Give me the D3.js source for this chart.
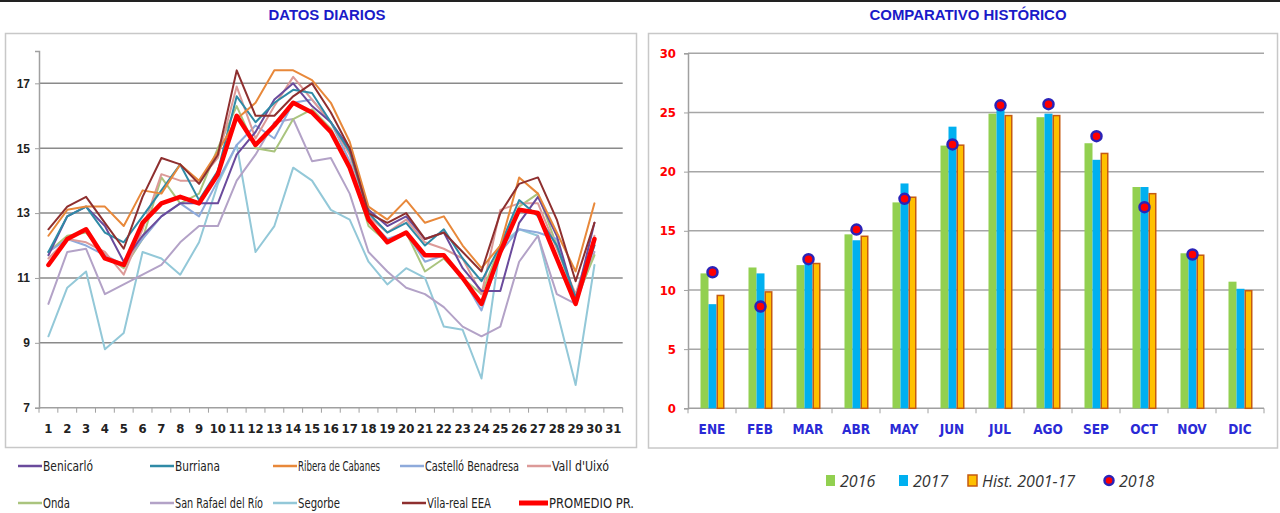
<!DOCTYPE html>
<html>
<head>
<meta charset="utf-8">
<script src="https://cdn.jsdelivr.net/npm/d3@7"></script>
<style>
  html, body { margin: 0; padding: 0; background: #fff; }
  svg { display: block; }
</style>
</head>
<body>
<svg id="chart" width="1280" height="513"></svg>
<script>
// ---------- DATA: left chart (daily) ----------
const days = d3.range(1, 32);
const dailyTicks = [7, 9, 11, 13, 15, 17];
const stationNames = ["Benicarló", "Burriana", "Ribera de Cabanes", "Castelló Benadresa", "Vall d'Uixó",
                      "Onda", "San Rafael del Río", "Segorbe", "Vila-real EEA", "PROMEDIO PR."];
const benicarlo = [11.7,12.9,13.2,12.6,11.5,12.3,12.9,13.3,13.3,13.3,14.8,15.5,16.5,17.0,16.3,15.8,15.0,13.1,12.6,12.9,12.2,12.4,11.3,10.6,10.6,12.7,13.5,12.3,10.3,12.7];
const burriana = [11.8,12.9,13.2,12.4,12.1,12.9,13.7,14.5,13.4,14.3,16.6,15.8,16.4,16.8,16.7,15.8,14.9,13.0,12.4,12.7,12.0,12.5,11.6,10.9,12.0,13.4,12.9,12.0,10.4,12.0];
const ribera = [12.3,13.1,13.2,13.2,12.6,13.7,13.6,14.5,14.0,14.9,15.9,16.4,17.4,17.4,17.1,16.4,15.2,13.2,12.8,13.4,12.7,12.9,12.0,11.3,12.0,14.1,13.6,12.4,11.2,13.3];
const castello = [11.8,12.2,12.0,11.7,11.4,12.2,12.9,13.3,12.9,14.0,15.1,15.7,15.3,16.4,16.5,15.8,14.6,12.8,12.2,12.4,11.5,11.7,11.0,10.0,11.8,12.5,12.4,12.2,10.2,12.0];
const vall = [11.6,12.2,12.1,11.8,11.1,12.5,14.2,14.0,14.0,14.7,16.9,15.3,16.3,17.2,16.5,15.8,14.8,12.9,12.4,12.8,12.1,11.9,11.6,10.5,13.1,13.3,13.3,11.9,10.5,12.3];
const onda = [11.8,12.3,12.4,11.7,11.3,12.2,14.1,13.3,13.6,15.0,16.3,15.0,14.9,15.9,16.2,15.6,14.5,12.6,12.1,12.4,11.2,11.6,11.0,10.5,12.0,13.2,13.6,12.0,10.3,11.7];
const sanrafael = [10.2,11.8,11.9,10.5,10.8,11.1,11.4,12.1,12.6,12.6,14.0,14.8,15.8,15.9,14.6,14.7,13.6,11.8,11.2,10.7,10.5,10.1,9.5,9.2,9.5,11.5,12.3,10.5,10.2,11.8];
const segorbe = [9.2,10.7,11.2,8.8,9.3,11.8,11.6,11.1,12.1,13.9,15.1,11.8,12.6,14.4,14.0,13.1,12.8,11.5,10.8,11.3,11.0,9.5,9.4,7.9,12.0,12.5,12.3,10.0,7.7,11.4];
const vilareal = [12.5,13.2,13.5,12.7,11.9,13.5,14.7,14.5,13.9,14.8,17.4,16.0,16.0,16.6,17.0,16.1,15.0,13.0,12.7,13.0,12.2,12.4,11.8,11.2,13.0,13.9,14.1,12.8,10.9,12.7];
const promedio = [11.4,12.2,12.5,11.6,11.4,12.7,13.3,13.5,13.3,14.2,16.0,15.1,15.7,16.4,16.1,15.5,14.4,12.8,12.1,12.4,11.7,11.7,11.0,10.2,11.8,13.1,13.0,11.6,10.2,12.2];

// ---------- DATA: right chart (monthly) ----------
const months = ["ENE","FEB","MAR","ABR","MAY","JUN","JUL","AGO","SEP","OCT","NOV","DIC"];
const monthTicks = [0, 5, 10, 15, 20, 25, 30];
const barSeries = ["2016", "2017", "Hist. 2001-17"];
const y2016 = [11.4,11.9,12.1,14.7,17.4,22.2,24.9,24.6,22.4,18.7,13.1,10.7];
const y2017 = [8.8,11.4,12.4,14.2,19.0,23.8,25.3,24.9,21.0,18.7,13.1,10.1];
const yHist = [9.6,9.9,12.3,14.6,17.9,22.3,24.8,24.8,21.6,18.2,13.0,10.0];
const y2018 = [11.5,8.6,12.6,15.1,17.7,22.3,25.6,25.7,23.0,17.0,13.0,null];

// ---------- STYLE ----------
const stationColors = ["#6a4a9c","#2f8aa6","#e8883a","#8eaadb","#dc9a98","#aac47e","#b3a2c7","#93c8d8","#8e2f2f","#ff0000"];
const barColors = ["#92d050", "#00b0f0", "#ffc000"];
const narrow = "'Liberation Sans Narrow','DejaVu Sans Condensed',Arial,sans-serif";
const legendWidths = [50, 45, 82, 94, 57, 27, 88, 42, 64, 85];

const svg = d3.select("#chart");
svg.append("rect").attr("width", 1280).attr("height", 513).attr("fill", "#fff");
svg.append("line").attr("x1", 0).attr("x2", 1280).attr("y1", 1).attr("y2", 1)
   .attr("stroke", "#222").attr("stroke-width", 2);

// titles
svg.append("text").attr("x", 327).attr("y", 20).attr("text-anchor", "middle")
   .attr("font-family", "Arial, 'Liberation Sans', sans-serif").attr("font-weight", "bold")
   .attr("font-size", 14).attr("fill", "#1a1ac8")
   .attr("textLength", 117).attr("lengthAdjust", "spacingAndGlyphs").text("DATOS DIARIOS");
svg.append("text").attr("x", 968).attr("y", 20).attr("text-anchor", "middle")
   .attr("font-family", "Arial, 'Liberation Sans', sans-serif").attr("font-weight", "bold")
   .attr("font-size", 14).attr("fill", "#1a1ac8")
   .attr("textLength", 197).attr("lengthAdjust", "spacingAndGlyphs").text("COMPARATIVO HISTÓRICO");

// ================= LEFT CHART =================
svg.append("rect").attr("x", 5.5).attr("y", 33.5).attr("width", 631).attr("height", 414)
   .attr("fill", "#fff").attr("stroke", "#c8c8c8").attr("stroke-width", 1.5);

const xL = d3.scaleBand().domain(days).range([39, 622.7]);
const yL = d3.scaleLinear().domain([7, 18]).range([407.7, 50.9]);

const gL = svg.append("g");
gL.selectAll("line.grid").data(dailyTicks.filter(d => d > 7)).join("line")
  .attr("x1", 39).attr("x2", 622.7).attr("y1", d => yL(d)).attr("y2", d => yL(d))
  .attr("stroke", "#8a8a8a").attr("stroke-width", 1.5);

const yAxisL = d3.axisLeft(yL).tickValues(dailyTicks).tickSize(4).tickFormat(d3.format("d"));
const gyL = gL.append("g").attr("transform", "translate(39,0)").call(yAxisL);
gyL.select(".domain").attr("stroke", "#a0a0a0").attr("stroke-width", 1.5);
gyL.selectAll(".tick line").attr("stroke", "#a0a0a0");
gyL.selectAll(".tick text").attr("font-family", "Arial, 'Liberation Sans', sans-serif")
   .attr("font-weight", "bold").attr("font-size", 12).attr("fill", "#222").attr("x", -9);

const gxL = gL.append("g").attr("transform", `translate(0,${yL(7)})`);
gxL.append("line").attr("x1", 39).attr("x2", 622.7).attr("stroke", "#a0a0a0").attr("stroke-width", 1.5);
gxL.selectAll("line.tk").data(d3.range(0, 32)).join("line")
   .attr("x1", i => 39 + i * xL.step()).attr("x2", i => 39 + i * xL.step())
   .attr("y1", 0).attr("y2", 5).attr("stroke", "#a0a0a0").attr("stroke-width", 1);
gxL.selectAll("text").data(days).join("text")
   .attr("x", d => xL(d) + xL.bandwidth() / 2).attr("y", 25).attr("text-anchor", "middle")
   .attr("font-family", narrow).attr("font-weight", "bold").attr("font-size", 13)
   .attr("fill", "#222").text(d => d);

const seriesL = [benicarlo, burriana, ribera, castello, vall, onda, sanrafael, segorbe, vilareal, promedio];
const lineGen = d3.line().x((v, i) => xL(days[i]) + xL.bandwidth() / 2).y(v => yL(v));
const drawOrder = [7, 6, 5, 3, 4, 0, 1, 2, 8, 9];
drawOrder.forEach(k => {
  gL.append("path").datum(seriesL[k]).attr("d", lineGen).attr("fill", "none")
    .attr("stroke", stationColors[k]).attr("stroke-width", k === 9 ? 4.5 : 2)
    .attr("stroke-linejoin", "round").attr("stroke-linecap", "round");
});

// legend left
const legL = [
  {k:0, x:18, y:466}, {k:1, x:150, y:466}, {k:2, x:273, y:466}, {k:3, x:400, y:466}, {k:4, x:527, y:466},
  {k:5, x:18, y:503}, {k:6, x:150, y:503}, {k:7, x:273, y:503}, {k:8, x:402, y:503}, {k:9, x:519, y:503}
];
const gLeg = svg.append("g");
legL.forEach(o => {
  const len = o.k === 9 ? 29 : 24;
  gLeg.append("line").attr("x1", o.x).attr("x2", o.x + len).attr("y1", o.y).attr("y2", o.y)
    .attr("stroke", stationColors[o.k]).attr("stroke-width", o.k === 9 ? 5 : 2.5);
  gLeg.append("text").attr("x", o.x + len + 1).attr("y", o.y + 5)
    .attr("font-family", narrow).attr("font-size", 14).attr("fill", "#222")
    .attr("textLength", legendWidths[o.k]).attr("lengthAdjust", "spacingAndGlyphs")
    .text(stationNames[o.k]);
});

// ================= RIGHT CHART =================
svg.append("rect").attr("x", 648.5).attr("y", 33.5).attr("width", 629).attr("height", 414.5)
   .attr("fill", "#fff").attr("stroke", "#c8c8c8").attr("stroke-width", 1.5);

const xR = d3.scaleBand().domain(months).range([688, 1264]);
const x1 = d3.scaleBand().domain(barSeries).range([12.5, 36.5]);
const yR = d3.scaleLinear().domain([0, 30]).range([408.3, 53.3]);

const gR = svg.append("g");
gR.selectAll("line.grid").data(monthTicks.filter(d => d > 0)).join("line")
  .attr("x1", 688).attr("x2", 1264).attr("y1", d => yR(d)).attr("y2", d => yR(d))
  .attr("stroke", "#a6a6a6").attr("stroke-width", 1.5);

const yAxisR = d3.axisLeft(yR).tickValues(monthTicks).tickSize(4).tickFormat(d3.format("d"));
const gyR = gR.append("g").attr("transform", "translate(688,0)").call(yAxisR);
gyR.select(".domain").attr("stroke", "#a0a0a0").attr("stroke-width", 1.5);
gyR.selectAll(".tick line").attr("stroke", "#a0a0a0");
gyR.selectAll(".tick text").attr("font-family", narrow).attr("font-weight", "bold")
   .attr("font-size", 13).attr("fill", "#ff0000").attr("x", -12);

const gxR = gR.append("g").attr("transform", `translate(0,${yR(0)})`);
gxR.append("line").attr("x1", 688).attr("x2", 1264).attr("stroke", "#a0a0a0").attr("stroke-width", 1.5);
gxR.selectAll("line.tk").data(d3.range(0, 13)).join("line")
   .attr("x1", i => 688 + i * xR.step()).attr("x2", i => 688 + i * xR.step())
   .attr("y1", 0).attr("y2", 5).attr("stroke", "#a0a0a0");
gxR.selectAll("text").data(months).join("text")
   .attr("x", d => xR(d) + xR.bandwidth() / 2).attr("y", 26).attr("text-anchor", "middle")
   .attr("font-family", narrow).attr("font-weight", "bold").attr("font-size", 13.5)
   .attr("fill", "#2a2ad6").text(d => d);

const barVals = [y2016, y2017, yHist];
barSeries.forEach((s, si) => {
  gR.selectAll(null).data(months).join("rect")
    .attr("x", m => xR(m) + x1(s) + (si === 2 ? 0.75 : 0))
    .attr("width", x1.bandwidth() - (si === 2 ? 1.5 : 0))
    .attr("y", (m, i) => yR(barVals[si][i]) + (si === 2 ? 0.75 : 0))
    .attr("height", (m, i) => yR(0) - yR(barVals[si][i]) - (si === 2 ? 0.75 : 0))
    .attr("fill", barColors[si])
    .attr("stroke", si === 2 ? "#c55a11" : "none")
    .attr("stroke-width", si === 2 ? 1.5 : 0);
});

gR.selectAll("circle.d18").data(months.map((m, i) => ({m, v: y2018[i]})).filter(d => d.v != null))
  .join("circle")
  .attr("cx", d => xR(d.m) + x1("2017") + x1.bandwidth() / 2)
  .attr("cy", d => yR(d.v)).attr("r", 5)
  .attr("fill", "#ff0000").attr("stroke", "#2b23b8").attr("stroke-width", 2.5);

// legend right
const gLegR = svg.append("g");
const legR = [
  {label: "2016", x: 826, type: 0},
  {label: "2017", x: 899, type: 1},
  {label: "Hist. 2001-17", x: 968, type: 2},
  {label: "2018", x: 1105, type: 3}
];
legR.forEach(o => {
  if (o.type < 3) {
    gLegR.append("rect").attr("x", o.x).attr("y", 475).attr("width", 9).attr("height", 11)
      .attr("fill", barColors[o.type])
      .attr("stroke", o.type === 2 ? "#c55a11" : "none").attr("stroke-width", 1.5);
  } else {
    gLegR.append("circle").attr("cx", o.x + 4).attr("cy", 480.5).attr("r", 4.5)
      .attr("fill", "#ff0000").attr("stroke", "#2b23b8").attr("stroke-width", 2.5);
  }
  gLegR.append("text").attr("x", o.x + 14).attr("y", 487)
    .attr("font-family", "'Open Sans', Arial, sans-serif").attr("font-style", "italic")
    .attr("font-size", 16).attr("fill", "#333").text(o.label);
});
</script>
</body>
</html>
